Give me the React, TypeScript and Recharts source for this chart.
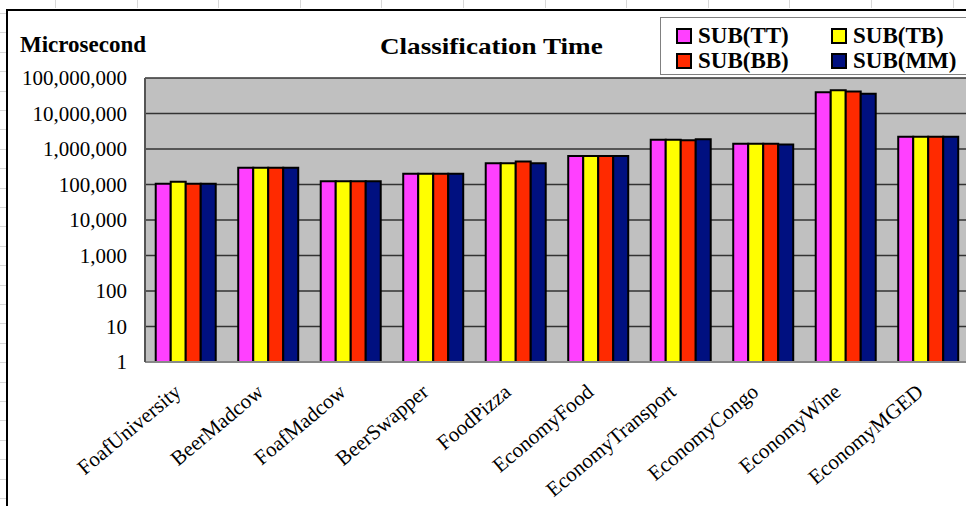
import React from "react";
import { BarChart, Bar, XAxis, YAxis, CartesianGrid, Legend } from "recharts";

const categories = [
  "FoafUniversity",
  "BeerMadcow",
  "FoafMadcow",
  "BeerSwapper",
  "FoodPizza",
  "EconomyFood",
  "EconomyTransport",
  "EconomyCongo",
  "EconomyWine",
  "EconomyMGED",
];
const subTT = [105000, 295000, 124000, 200000, 400000, 630000, 1830000, 1400000, 40000000, 2200000];
const subTB = [120000, 295000, 124000, 200000, 400000, 630000, 1830000, 1400000, 45000000, 2200000];
const subBB = [105000, 295000, 124000, 200000, 445000, 630000, 1760000, 1400000, 41500000, 2200000];
const subMM = [105000, 295000, 124000, 200000, 400000, 630000, 1870000, 1330000, 36000000, 2200000];
const yTicks = [1, 10, 100, 1000, 10000, 100000, 1000000, 10000000, 100000000];

const seriesNames = ["SUB(TT)", "SUB(TB)", "SUB(BB)", "SUB(MM)"];
const seriesColors = ["#FF40FF", "#FFFF00", "#FF2A00", "#001080"];

const data = categories.map((name, i) => ({
  name,
  tt: subTT[i],
  tb: subTB[i],
  bb: subBB[i],
  mm: subMM[i],
}));

const FONT = '"Liberation Serif", "Times New Roman", serif';

// rotated category labels, anchored at the end like the spreadsheet does
const XTick = (props: any) => {
  const { x, y, payload } = props;
  const ax = x - 4;
  const ay = y + 24;
  return (
    <text
      x={ax}
      y={ay}
      textAnchor="end"
      fontFamily={FONT}
      fontSize={21}
      fill="#000"
      transform={`rotate(-40, ${ax}, ${ay})`}
    >
      {payload.value}
    </text>
  );
};

const LegendBox = () => {
  const items = seriesNames.map((n, i) => ({ n, c: seriesColors[i] }));
  return (
    <div
      style={{
        width: 320,
        height: 56,
        background: "#fff",
        border: "1px solid #808080",
        position: "relative",
        fontFamily: FONT,
        fontWeight: "bold",
        fontSize: 23,
      }}
    >
      {items.map((it, i) => {
        const col = i % 2;
        const row = Math.floor(i / 2);
        return (
          <div
            key={it.n}
            style={{
              position: "absolute",
              left: 15 + col * 155,
              top: 7 + row * 25,
              display: "flex",
              alignItems: "center",
              lineHeight: "22px",
            }}
          >
            <span
              style={{
                display: "inline-block",
                width: 12,
                height: 12,
                background: it.c,
                border: "2px solid #000",
                marginRight: 6,
              }}
            />
            <span>{it.n}</span>
          </div>
        );
      })}
    </div>
  );
};

const sheetRows = Array.from({ length: 26 }, (_, i) => 13 + i * 19.4);
const sheetCols = Array.from({ length: 12 }, (_, i) => 55 + i * 81.6);

export default function App() {
  return (
    <div
      style={{
        position: "fixed",
        left: 0,
        top: 0,
        width: 966,
        height: 506,
        overflow: "hidden",
        background: "#fff",
      }}
    >
      {sheetRows.map((y) => (
        <div
          key={"r" + y}
          style={{ position: "absolute", left: 0, top: y, width: 6, height: 1, background: "#d8d8d8" }}
        />
      ))}
      {sheetCols.map((x) => (
        <div
          key={"c" + x}
          style={{ position: "absolute", left: x, top: 0, width: 1, height: 8, background: "#d8d8d8" }}
        />
      ))}
      <div
        style={{
          position: "absolute",
          left: 6,
          top: 9,
          width: 980,
          height: 520,
          borderLeft: "2px solid #000",
          borderTop: "2px solid #000",
        }}
      />
      <div
        style={{
          position: "absolute",
          left: 20,
          top: 32,
          fontFamily: FONT,
          fontWeight: "bold",
          fontSize: 23,
        }}
      >
        Microsecond
      </div>
      <div
        style={{
          position: "absolute",
          left: 380,
          top: 33,
          fontFamily: FONT,
          fontWeight: "bold",
          fontSize: 24,
          whiteSpace: "nowrap",
          transform: "scaleX(1.13)",
          transformOrigin: "left top",
        }}
      >
        Classification Time
      </div>
      <div style={{ position: "absolute", left: 0, top: 0 }}>
        <BarChart
          width={980}
          height={506}
          data={data}
          margin={{ top: 78, right: 10, left: 0, bottom: 0 }}
          barCategoryGap="13%"
          barGap={0}
        >
          <CartesianGrid vertical={false} fill="#C0C0C0" stroke="#333" strokeWidth={1.5} />
          <XAxis
            dataKey="name"
            interval={0}
            height={144}
            tick={<XTick />}
            tickLine={false}
            axisLine={{ stroke: "#888", strokeWidth: 2 }}
          />
          <YAxis
            scale="log"
            domain={[1, 100000000]}
            ticks={yTicks}
            allowDataOverflow
            width={145}
            tickLine={false}
            tickMargin={12}
            axisLine={{ stroke: "#555", strokeWidth: 2 }}
            tick={{ fontFamily: FONT, fontSize: 21, fill: "#000" }}
            tickFormatter={(v: number) => v.toLocaleString("en-US")}
          />
          <Legend
            layout="vertical"
            align="center"
            verticalAlign="middle"
            wrapperStyle={{ left: 660, top: 17, width: 320, height: 58 }}
            content={() => <LegendBox />}
          />
          <Bar dataKey="tt" name={seriesNames[0]} fill={seriesColors[0]} stroke="#000" strokeWidth={2} isAnimationActive={false} />
          <Bar dataKey="tb" name={seriesNames[1]} fill={seriesColors[1]} stroke="#000" strokeWidth={2} isAnimationActive={false} />
          <Bar dataKey="bb" name={seriesNames[2]} fill={seriesColors[2]} stroke="#000" strokeWidth={2} isAnimationActive={false} />
          <Bar dataKey="mm" name={seriesNames[3]} fill={seriesColors[3]} stroke="#000" strokeWidth={2} isAnimationActive={false} />
        </BarChart>
      </div>
    </div>
  );
}
